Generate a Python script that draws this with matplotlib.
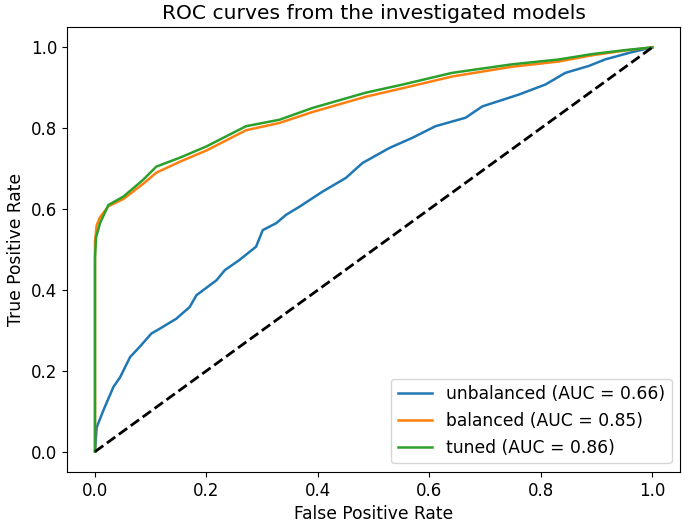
import matplotlib.pyplot as plt

# values
fpr_unbalanced = [0.0, 0.003, 0.015, 0.033, 0.045, 0.063, 0.08, 0.101, 0.116, 0.146, 0.17,
                  0.182, 0.218, 0.233, 0.259, 0.289, 0.301, 0.325, 0.343, 0.367, 0.408, 0.45,
                  0.48, 0.528, 0.569, 0.611, 0.665, 0.695, 0.76, 0.808, 0.844, 0.886, 0.915,
                  0.96, 1.0]
tpr_unbalanced = [0.0, 0.06, 0.102, 0.16, 0.184, 0.234, 0.259, 0.292, 0.304, 0.329, 0.358,
                  0.387, 0.424, 0.449, 0.474, 0.507, 0.548, 0.565, 0.586, 0.606, 0.643, 0.677,
                  0.714, 0.751, 0.776, 0.805, 0.826, 0.854, 0.883, 0.908, 0.937, 0.954, 0.97,
                  0.987, 1.0]

fpr_balanced = [0.0, 0.0, 0.003, 0.009, 0.024, 0.051, 0.086, 0.11, 0.152, 0.20, 0.271, 0.331,
                0.39, 0.486, 0.552, 0.641, 0.748, 0.832, 0.89, 0.95, 1.0]
tpr_balanced = [0.0, 0.52, 0.56, 0.58, 0.607, 0.625, 0.662, 0.69, 0.717, 0.745, 0.795, 0.813,
                0.84, 0.878, 0.899, 0.928, 0.952, 0.965, 0.98, 0.992, 1.0]

fpr_tuned = [0.0, 0.0, 0.002, 0.009, 0.024, 0.051, 0.086, 0.11, 0.152, 0.20, 0.271, 0.331,
             0.39, 0.486, 0.552, 0.641, 0.748, 0.832, 0.89, 0.95, 1.0]
tpr_tuned = [0.0, 0.48, 0.53, 0.565, 0.61, 0.631, 0.672, 0.705, 0.727, 0.755, 0.805, 0.821,
             0.85, 0.888, 0.908, 0.937, 0.958, 0.97, 0.983, 0.993, 1.0]

curves = [
    ('unbalanced', 0.66, fpr_unbalanced, tpr_unbalanced),
    ('balanced', 0.85, fpr_balanced, tpr_balanced),
    ('tuned', 0.86, fpr_tuned, tpr_tuned),
]

fig = plt.figure(figsize=(6.85, 5.22), dpi=100)
ax = fig.add_axes([0.098, 0.096, 0.895, 0.852])

for name, auc, fpr, tpr in curves:
    ax.plot(fpr, tpr, linewidth=1.8, label=f'{name} (AUC = {auc:.2f})')
ax.plot([0, 1], [0, 1], 'k--', linewidth=2)

ax.set_xlabel('False Positive Rate', fontsize=12.3)
ax.set_ylabel('True Positive Rate', fontsize=12.3)
ax.set_title('ROC curves from the investigated models', fontsize=14.6)
ax.tick_params(labelsize=12)
ax.legend(loc='lower right', fontsize=12.3)

fig.savefig('out.png', dpi=100)
